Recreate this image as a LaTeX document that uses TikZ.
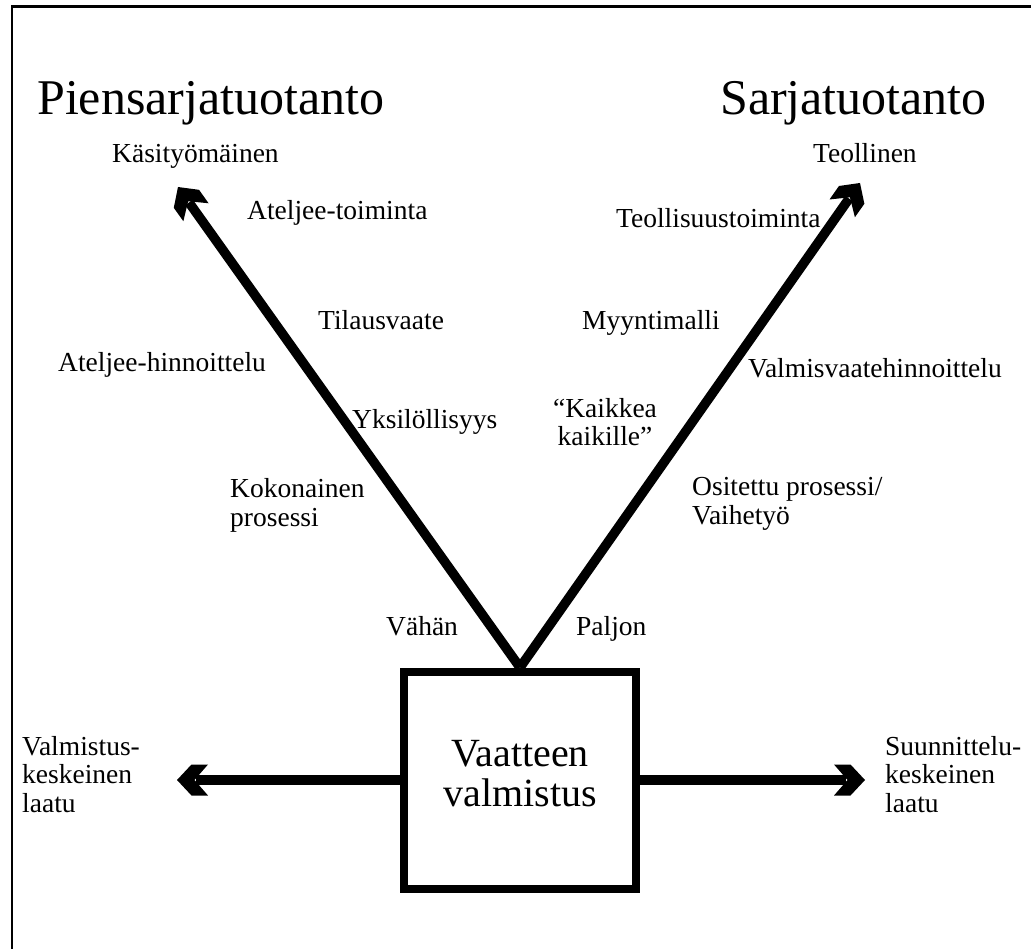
\documentclass[tikz,border=0pt]{standalone}
\usepackage{fontspec}
\setmainfont{Liberation Serif}
\usetikzlibrary{arrows.meta}
\pgfdeclarearrow{
  name=Chev,
  setup code={
    \pgfarrowssettipend{0pt}
    \pgfarrowssetlineend{-19pt}
    \pgfarrowssetvisualbackend{-31pt}
    \pgfarrowssetbackend{-31pt}
    \pgfarrowshullpoint{0pt}{0pt}
    \pgfarrowshullpoint{-31pt}{15.5pt}
    \pgfarrowshullpoint{-31pt}{-15.5pt}
  },
  drawing code={
    \pgfpathmoveto{\pgfpoint{0pt}{0pt}}
    \pgfpathlineto{\pgfpoint{-14.5pt}{15.5pt}}
    \pgfpathlineto{\pgfpoint{-31pt}{15.5pt}}
    \pgfpathlineto{\pgfpoint{-17.5pt}{0pt}}
    \pgfpathlineto{\pgfpoint{-31pt}{-15.5pt}}
    \pgfpathlineto{\pgfpoint{-14.5pt}{-15.5pt}}
    \pgfpathclose
    \pgfusepathqfill
  }
}
\begin{document}
\begin{tikzpicture}[x=1pt,y=-1pt,
  lbl/.style={font=\fontsize{27.5}{28.5}\selectfont, inner sep=0pt, anchor=base west, align=left},
  ttl/.style={font=\fontsize{50}{60}\selectfont, inner sep=0pt, anchor=base west},
  thickarrow/.style={line width=9.5pt, line cap=butt, -{Chev}},
  frameline/.style={line width=2.5pt, line join=miter}
]
\useasboundingbox (0,0) rectangle (1031,949);
\draw[frameline] (1031,6.5) -- (12,6.5) -- (12,949);

% titles
\node[ttl] (t1) at (37,115) {Piensarjatuotanto};
\node[ttl] (t2) at (720,115) {Sarjatuotanto};

% box
\node[draw, line width=8pt, line join=miter, minimum width=232pt, minimum height=217pt, inner sep=0pt] (box) at (520,780) {};
\node[align=center, inner sep=0pt, font=\fontsize{40}{40}\selectfont] (bt) at (520,774) {Vaatteen\\valmistus};

% arrow end points
\coordinate (tl) at (178,187);
\coordinate (tr) at (860,183);
\coordinate (hl) at (177,780);
\coordinate (hr) at (865,780);

\draw[thickarrow] (box.north) -- (tl);
\draw[thickarrow] (box.north) -- (tr);
\draw[thickarrow] (box.west) -- (hl);
\draw[thickarrow] (box.east) -- (hr);

% left labels
\node[lbl] (l1) at (112,163) {Käsityömäinen};
\node[lbl] (l2) at (247,220) {Ateljee-toiminta};
\node[lbl] (l3) at (318,330) {Tilausvaate};
\node[lbl] (l4) at (58,372) {Ateljee-hinnoittelu};
\node[lbl] (l5) at (352,429) {Yksilöllisyys};
\node[lbl] (l6) at (230,526) {Kokonainen\\prosessi};
\node[lbl] (l7) at (386,635) {Vähän};

% right labels
\node[lbl] (r1) at (813,163) {Teollinen};
\node[lbl] (r2) at (616,228) {Teollisuustoiminta};
\node[lbl] (r3) at (582,330) {Myyntimalli};
\node[lbl] (r4) at (748,378) {Valmisvaatehinnoittelu};
\node[lbl, align=center, anchor=base] (r5) at (605,446) {“Kaikkea\\kaikille”};
\node[lbl] (r6) at (692,524) {Ositettu prosessi/\\Vaihetyö};
\node[lbl] (r7) at (576,635) {Paljon};

% side labels
\node[lbl] (s1) at (22,812) {Valmistus-\\keskeinen\\laatu};
\node[lbl] (s2) at (885,812) {Suunnittelu-\\keskeinen\\laatu};
\end{tikzpicture}
\end{document}
